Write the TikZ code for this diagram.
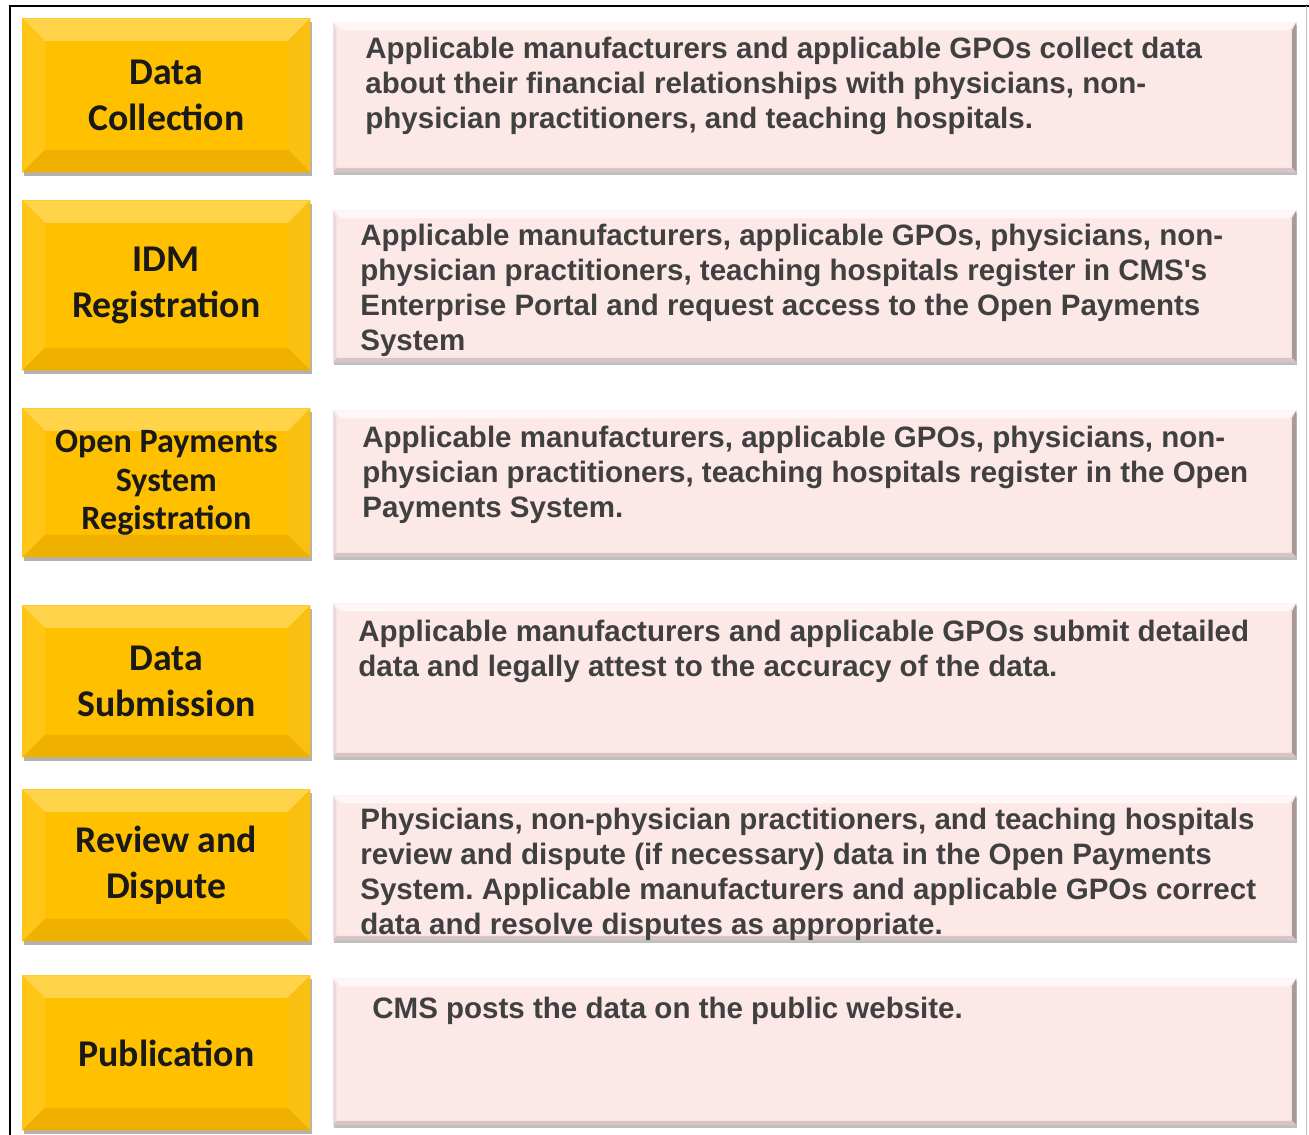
\documentclass[tikz,border=0pt]{standalone}
\usepackage{fontspec}
\setmainfont{Liberation Sans}[Ligatures=TeXOff]
\newfontfamily\stagefont{Carlito}
\usetikzlibrary{shadows}

\begin{document}
\frenchspacing
\begin{tikzpicture}
    \definecolor{stage-color}{HTML}{FFC000}
    \definecolor{stage-light}{HTML}{FFD34A}
    \definecolor{stage-side}{HTML}{FFC618}
    \definecolor{stage-dark}{HTML}{F0B000}
    \definecolor{desc-color}{HTML}{FDE8E8}
    \definecolor{desc-light}{HTML}{FFF6F6}
    \definecolor{desc-edge}{HTML}{A99A9A}
    \definecolor{desc-text}{HTML}{404040}
    \tikzstyle{every node}=[inner sep=0pt]
    \tikzstyle{stage} = [rectangle, anchor=north west, fill=stage-color, minimum width=5.76cm, align=center,
        font=\stagefont\bfseries\fontsize{21.5}{26}\selectfont, text=black!90,
        drop shadow={shadow xshift=0.03cm, shadow yshift=-0.07cm, fill=black, opacity=0.3},
        path picture={
            \coordinate (nw) at (path picture bounding box.north west);
            \coordinate (ne) at (path picture bounding box.north east);
            \coordinate (sw) at (path picture bounding box.south west);
            \coordinate (se) at (path picture bounding box.south east);
            \fill[stage-light] (nw) -- (ne) -- ([shift={(-0.45,-0.45)}]ne) -- ([shift={(0.45,-0.45)}]nw) -- cycle;
            \fill[stage-side] (nw) -- (sw) -- ([shift={(0.45,0.45)}]sw) -- ([shift={(0.45,-0.45)}]nw) -- cycle;
            \fill[stage-side!70!stage-dark] (ne) -- (se) -- ([shift={(-0.45,0.45)}]se) -- ([shift={(-0.45,-0.45)}]ne) -- cycle;
            \fill[stage-dark] (sw) -- (se) -- ([shift={(-0.45,0.45)}]se) -- ([shift={(0.45,0.45)}]sw) -- cycle;
        }]
    \tikzstyle{desc} = [rectangle, anchor=north west, fill=desc-color, minimum width=19.26cm,
        drop shadow={shadow xshift=0.02cm, shadow yshift=-0.06cm, fill=black, opacity=0.25},
        path picture={
            \coordinate (nw) at (path picture bounding box.north west);
            \coordinate (ne) at (path picture bounding box.north east);
            \coordinate (sw) at (path picture bounding box.south west);
            \coordinate (se) at (path picture bounding box.south east);
            \fill[desc-light] (nw) -- (ne) -- ([shift={(-0.16,-0.16)}]ne) -- ([shift={(0.16,-0.16)}]nw) -- cycle;
            \fill[desc-color!80!desc-edge] (nw) -- (sw) -- ([shift={(0.06,0.06)}]sw) -- ([shift={(0.06,-0.16)}]nw) -- cycle;
            \fill[desc-edge] (ne) -- (se) -- ([shift={(-0.09,0.09)}]se) -- ([shift={(-0.09,-0.16)}]ne) -- cycle;
            \fill[desc-color!55!desc-edge] (sw) -- (se) -- ([shift={(-0.09,0.09)}]se) -- ([shift={(0.06,0.09)}]sw) -- cycle;
        }]
    \tikzstyle{desc text} = [anchor=north west, align=left, text=desc-text, font=\bfseries\fontsize{16.8}{19.9}\selectfont]
    % page and frame
    \useasboundingbox (0,0) rectangle (26.18,-22.7);
    \fill[white] (0,0) rectangle (26.18,-22.7);
    \draw[black, line width=1.3pt] (0.2,-22.7) -- (0.2,-0.12) -- (26.18,-0.12);
    \draw[black!25, line width=0.6pt] (26.13,-0.12) -- (26.13,-22.7);
    % stages
        \node (stage1) [stage, minimum height=3.08cm] at (0.44,-0.36) {Data\\Collection};
        \node (stage2) [stage, minimum height=3.4cm] at (0.44,-4.0) {IDM\\Registration};
        \node (stage3) [stage, minimum height=2.98cm, font=\stagefont\bfseries\fontsize{19.4}{21.8}\selectfont] at (0.44,-8.16) {Open Payments\\System\\Registration};
        \node (stage4) [stage, minimum height=3.04cm] at (0.44,-12.1) {Data\\Submission};
        \node (stage5) [stage, minimum height=3.04cm] at (0.44,-15.78) {Review and\\Dispute};
        \node (stage6) [stage, minimum height=3.1cm] at (0.44,-19.5) {Publication};
    % descriptions
        \node (desc1) [desc, minimum height=3.0cm] at (6.66,-0.44) {};
        \node (desc2) [desc, minimum height=3.04cm] at (6.66,-4.2) {};
        \node (desc3) [desc, minimum height=2.94cm] at (6.66,-8.2) {};
        \node (desc4) [desc, minimum height=3.08cm] at (6.66,-12.06) {};
        \node (desc5) [desc, minimum height=2.9cm] at (6.66,-15.9) {};
        \node (desc6) [desc, minimum height=2.94cm] at (6.66,-19.56) {};
        \node (text1) [desc text] at (7.3,-0.74) {Applicable manufacturers and applicable GPOs collect data\\about their financial relationships with physicians, non-\\physician practitioners, and teaching hospitals.};
        \node (text2) [desc text] at (7.2,-4.48) {Applicable manufacturers, applicable GPOs, physicians, non-\\physician practitioners, teaching hospitals register in CMS's\\Enterprise Portal and request access to the Open Payments\\System};
        \node (text3) [desc text] at (7.24,-8.52) {Applicable manufacturers, applicable GPOs, physicians, non-\\physician practitioners, teaching hospitals register in the Open\\Payments System.};
        \node (text4) [desc text] at (7.16,-12.4) {Applicable manufacturers and applicable GPOs submit detailed\\data and legally attest to the accuracy of the data.};
        \node (text5) [desc text] at (7.2,-16.16) {Physicians, non-physician practitioners, and teaching hospitals\\review and dispute (if necessary) data in the Open Payments\\System. Applicable manufacturers and applicable GPOs correct\\data and resolve disputes as appropriate.};
        \node (text6) [desc text] at (7.44,-19.94) {CMS posts the data on the public website.};
\end{tikzpicture}
\end{document}
